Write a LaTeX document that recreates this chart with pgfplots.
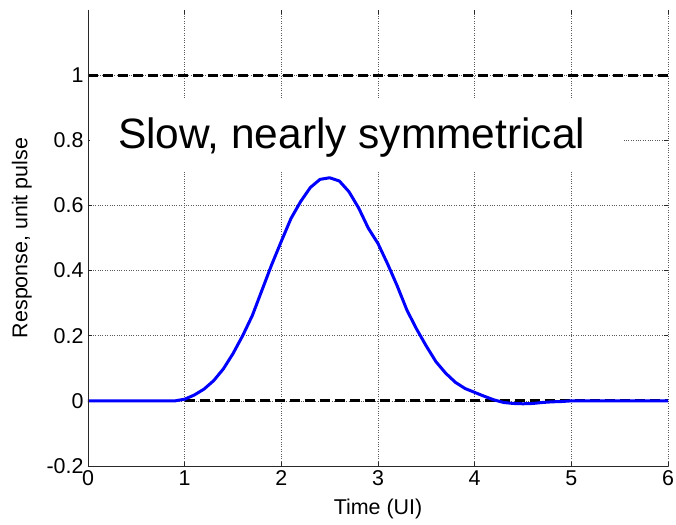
\documentclass[border=0pt]{standalone}
\usepackage{pgfplots}
\pgfplotsset{compat=1.18}
\usepackage{fontspec}
\setmainfont{Liberation Sans}
\definecolor{PulseBlue}{RGB}{0,0,255}
\definecolor{GridGray}{RGB}{90,90,90}
\definecolor{AxisGray}{RGB}{40,40,40}

\pgfplotstableread{
x y
0.0 0.000
0.5 0.000
0.9 0.000
1.0 0.005
1.1 0.018
1.2 0.036
1.3 0.062
1.4 0.098
1.5 0.145
1.6 0.200
1.7 0.262
1.8 0.340
1.9 0.418
2.0 0.490
2.1 0.560
2.2 0.612
2.3 0.655
2.4 0.680
2.5 0.685
2.6 0.675
2.7 0.642
2.8 0.592
2.9 0.530
3.0 0.483
3.1 0.420
3.2 0.352
3.3 0.278
3.4 0.220
3.5 0.168
3.6 0.120
3.7 0.085
3.8 0.057
3.9 0.038
4.0 0.026
4.1 0.014
4.2 0.003
4.3 -0.005
4.4 -0.008
4.5 -0.009
4.6 -0.008
4.7 -0.005
4.8 -0.003
4.9 -0.002
5.0 0.000
6.0 0.000
}\pulse

\begin{document}
\begin{tikzpicture}
\begin{axis}[
  scale only axis,
  width=580bp, height=456bp,
  xmin=0, xmax=6, ymin=-0.2, ymax=1.2,
  xtick={0,1,2,3,4,5,6},
  ytick={-0.2,0,0.2,0.4,0.6,0.8,1},
  yticklabels={-0.2,0,0.2,0.4,0.6,0.8,1},
  tick align=inside,
  major tick length=4bp,
  xtick pos=both, ytick pos=both,
  tick style={AxisGray, line width=0.6bp},
  axis line style={draw=none},
  grid=major,
  major grid style={GridGray, dotted, line width=0.5bp},
  ticklabel style={font=\fontsize{21.5}{25}\selectfont},
  /pgf/number format/assume math mode=true,
  xticklabel style={yshift=-1bp},
  yticklabel style={xshift=-1bp},
  xlabel={Time (UI)},
  ylabel={Response, unit pulse},
  label style={font=\fontsize{21.5}{25}\selectfont},
  xlabel style={yshift=-6bp},
  ylabel style={yshift=8bp},
  clip=false,
]
\addplot[black, line width=3bp, dash pattern=on 10bp off 5bp] coordinates {(0,1) (6,1)};
\addplot[black, line width=3bp, dash pattern=on 10bp off 5bp] coordinates {(1,0) (6,0)};
\addplot[PulseBlue, line width=3bp, line join=round] table[x=x, y=y] {\pulse};
\fill[white] (axis cs:0.02,0.709) rectangle (axis cs:5.545,0.93);
\node[anchor=base west, inner sep=0pt, font=\fontsize{42.6}{48}\selectfont] at (axis cs:0.31,0.774) {Slow, nearly symmetrical};
\draw[AxisGray, line width=0.9bp] (rel axis cs:0,1) -- (rel axis cs:0,0) -- (rel axis cs:1,0);
\end{axis}
\pgfresetboundingbox
\path ([shift={(-88bp,-59bp)}]current axis.south west) rectangle ([shift={(8bp,10bp)}]current axis.north east);
\end{tikzpicture}
\end{document}
